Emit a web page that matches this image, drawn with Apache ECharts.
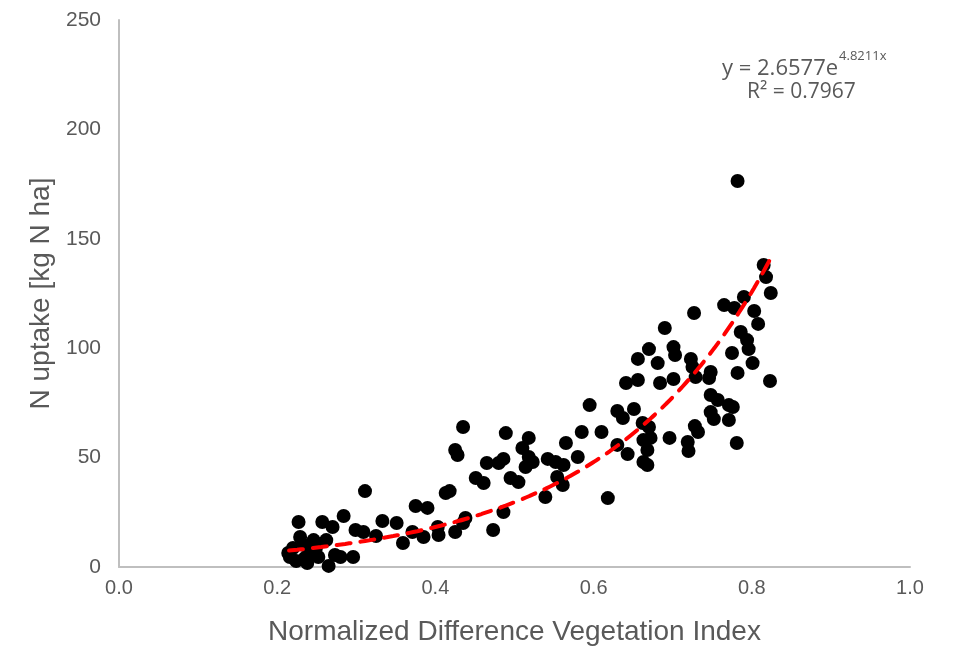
<!DOCTYPE html>
<html>
<head>
<meta charset="utf-8">
<script src="https://cdn.jsdelivr.net/npm/echarts@6/dist/echarts.min.js"></script>
<style>
  html, body { margin: 0; padding: 0; background: #fff; }
  #chart { width: 954px; height: 651px; }
</style>
</head>
<body>
<div id="chart"></div>
<script>
// NDVI values (x) and N uptake (y)
var ndvi = [
  0.214, 0.216, 0.220, 0.224, 0.227, 0.229, 0.233, 0.235, 0.238, 0.242,
  0.246, 0.249, 0.252, 0.257, 0.262, 0.265, 0.270, 0.273, 0.280, 0.284,
  0.296, 0.299, 0.309, 0.311, 0.325, 0.333, 0.351, 0.359, 0.371, 0.375,
  0.390, 0.403, 0.404, 0.413, 0.418, 0.425, 0.428, 0.425, 0.435, 0.438,
  0.435, 0.451, 0.461, 0.465, 0.473, 0.480, 0.486, 0.486, 0.489, 0.495,
  0.505, 0.510, 0.514, 0.518, 0.523, 0.518, 0.539, 0.542, 0.552, 0.562,
  0.554, 0.561, 0.565, 0.580, 0.585, 0.595, 0.610, 0.618, 0.630, 0.630,
  0.637, 0.643, 0.651, 0.641, 0.656, 0.656, 0.662, 0.670, 0.663, 0.672,
  0.668, 0.663, 0.668, 0.670, 0.681, 0.684, 0.690, 0.696, 0.701, 0.703,
  0.701, 0.719, 0.720, 0.723, 0.725, 0.729, 0.727, 0.728, 0.732, 0.746,
  0.748, 0.748, 0.757, 0.748, 0.752, 0.771, 0.776, 0.771, 0.765, 0.778,
  0.790, 0.803, 0.808, 0.786, 0.794, 0.796, 0.775, 0.801, 0.782, 0.781,
  0.823, 0.824, 0.818, 0.815, 0.782, 0.385
];
var uptake = [
  6.4, 4.6, 8.7, 2.7, 20.6, 13.7, 10.1, 4.1, 1.8, 6.9,
  12.3, 8.7, 4.6, 20.6, 12.3, 0.5, 18.3, 5.5, 4.6, 23.3,
  4.6, 16.9, 16.0, 34.7, 14.2, 21.0, 20.1, 11.0, 16.0, 27.9,
  27.0, 18.3, 14.6, 33.8, 34.7, 53.5, 51.2, 16.0, 20.1, 22.4,
  64.0, 40.7, 38.4, 47.5, 16.9, 47.5, 49.4, 25.1, 61.2, 40.7,
  38.8, 54.4, 45.7, 59.0, 48.0, 50.3, 32.0, 49.4, 48.0, 46.6,
  41.1, 37.5, 56.7, 50.3, 61.7, 74.0, 61.7, 31.5, 55.8, 71.3,
  68.1, 51.6, 72.2, 84.1, 85.5, 95.1, 65.8, 64.0, 58.0, 59.0,
  53.5, 48.0, 46.6, 99.6, 93.2, 84.1, 109.2, 59.0, 100.5, 96.9,
  85.9, 57.1, 53.0, 95.1, 91.4, 86.8, 116.1, 64.4, 61.7, 86.4,
  89.1, 78.6, 76.3, 70.8, 67.6, 67.2, 73.1, 74.0, 119.7, 118.4,
  123.4, 117.0, 111.1, 107.4, 103.7, 99.6, 97.8, 93.2, 88.7, 56.7,
  85.0, 125.2, 132.5, 138.0, 176.4, 13.7
];

// exponential trendline as printed on the chart
var fitA = 2.6577;
var fitB = 4.8211;
var fitR2 = 0.7967;
var fitFrom = 0.215;
var fitTo = 0.823;

var xTicks = [0, 0.2, 0.4, 0.6, 0.8, 1.0];
var yTicks = [0, 50, 100, 150, 200, 250];

var points = ndvi.map(function (x, i) { return [x, uptake[i]]; });
var trend = [];
for (var k = 0; k <= 60; k++) {
  var xv = fitFrom + (fitTo - fitFrom) * k / 60;
  trend.push([xv, fitA * Math.exp(fitB * xv)]);
}

var chart = echarts.init(document.getElementById('chart'), null, { renderer: 'canvas' });
var grey = '#595959';
var sans = '"Liberation Sans", Arial, sans-serif';
var eqFont = '"Open Sans", sans-serif';
var option = {
  backgroundColor: '#fff',
  animation: false,
  grid: { left: 119, right: 44, top: 20, bottom: 84 },
  xAxis: {
    type: 'value',
    min: xTicks[0],
    max: xTicks[xTicks.length - 1],
    interval: 0.2,
    name: 'Normalized Difference Vegetation Index',
    nameLocation: 'middle',
    nameGap: 51,
    nameTextStyle: { color: grey, fontSize: 28, fontFamily: sans },
    axisLine: { lineStyle: { color: '#bfbfbf', width: 2 } },
    axisTick: { show: false },
    splitLine: { show: false },
    axisLabel: {
      color: grey, fontSize: 20, margin: 11, fontFamily: sans,
      formatter: function (v) { return v.toFixed(1); }
    }
  },
  yAxis: {
    type: 'value',
    min: yTicks[0],
    max: yTicks[yTicks.length - 1],
    interval: 50,
    name: 'N uptake [kg N ha]',
    nameLocation: 'middle',
    nameGap: 63,
    nameTextStyle: { color: grey, fontSize: 28, fontFamily: sans },
    axisLine: { show: true, lineStyle: { color: '#bfbfbf', width: 2 } },
    axisTick: { show: false },
    splitLine: { show: false },
    axisLabel: { color: grey, fontSize: 21, margin: 18, fontFamily: sans }
  },
  graphic: [
    {
      type: 'text', left: 722, top: 50,
      style: {
        text: '{m|y = ' + fitA + 'e}{s|' + fitB + 'x}',
        rich: {
          m: { fill: grey, fontSize: 22, fontFamily: eqFont, lineHeight: 30, verticalAlign: 'bottom' },
          s: { fill: grey, fontSize: 13, fontFamily: eqFont, lineHeight: 30, verticalAlign: 'top', padding: [0, 0, 0, 1] }
        }
      }
    },
    {
      type: 'text', left: 747, top: 82,
      style: { text: 'R\u00b2 = ' + fitR2, fill: grey, font: '21px ' + eqFont }
    }
  ],
  series: [
    {
      type: 'scatter',
      data: points,
      symbolSize: 14,
      itemStyle: { color: '#000', opacity: 1 },
      z: 2
    },
    {
      type: 'line',
      data: trend,
      showSymbol: false,
      smooth: true,
      lineStyle: { color: '#ff0000', width: 4, type: [14, 10], cap: 'round' },
      z: 3
    }
  ]
};
chart.setOption(option);
</script>
</body>
</html>
